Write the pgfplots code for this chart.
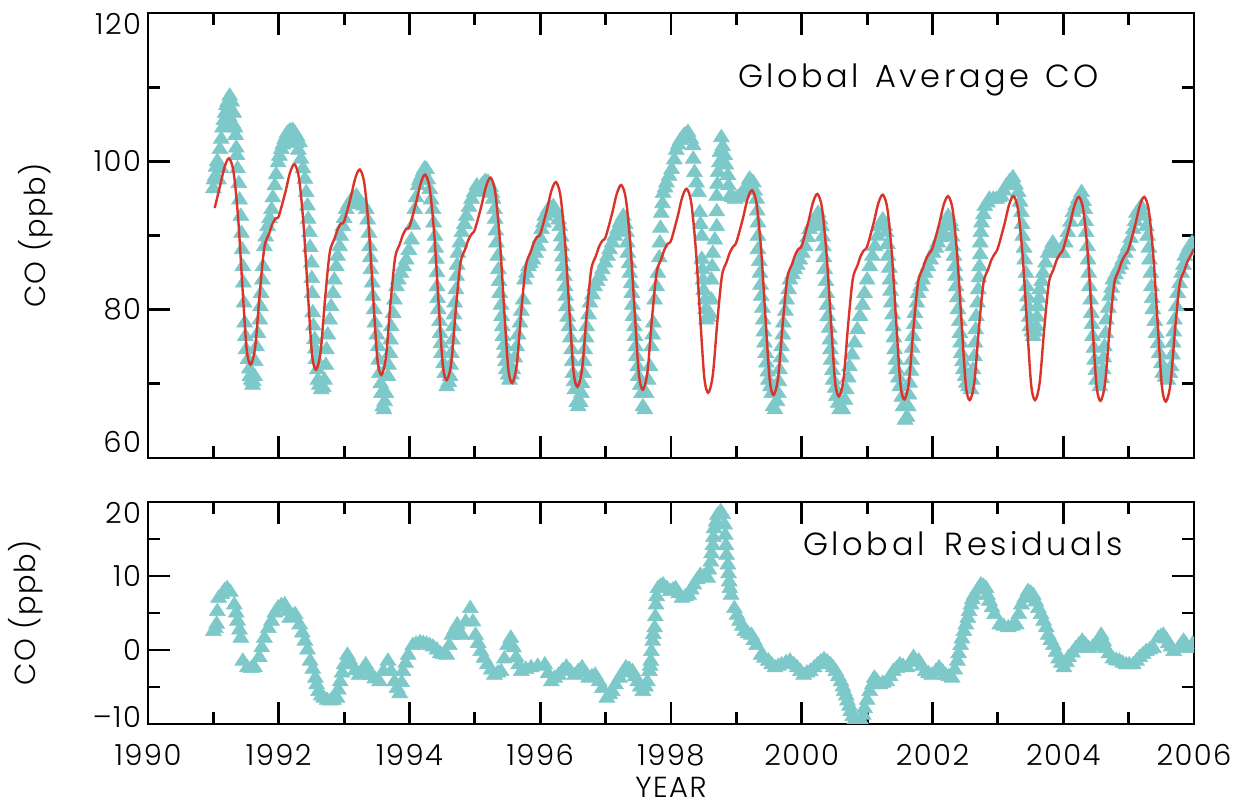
\documentclass[border=0pt]{standalone}
\usepackage{fontspec}
\setmainfont{Poppins Light}[LetterSpace=5]
\newfontfamily\widefont{Poppins Light}[LetterSpace=11]
\usepackage{pgfplots}
\pgfplotsset{compat=1.18}
\usetikzlibrary{calc}
\definecolor{cotri}{RGB}{125,200,200}
\definecolor{fitred}{RGB}{218,52,42}

\pgfplotsset{
  coaxis/.style={
    scale only axis, width=523pt,
    xmin=1990, xmax=2006,
    xtick={1990,1992,...,2006},
    minor xtick={1991,1993,...,2005},
    tick align=inside,
    major tick length=11pt, minor tick length=6pt,
    axis line style={line width=1.4pt},
    tick style={line width=1.4pt, black},
    clip marker paths=true,
    /pgf/number format/assume math mode=true,
    /pgf/number format/1000 sep={},
    tick label style={font=\fontsize{14.5}{16}\selectfont},
    label style={font=\fontsize{14.5}{16}\selectfont},
  },
  tri/.style={only marks, color=cotri, mark=triangle*, mark size=4.6pt,
    mark options={draw=cotri, fill=cotri, line width=0.3pt, yscale=0.9}},
}

\begin{document}
\begin{tikzpicture}
% ---- top panel: global average CO
\begin{axis}[coaxis, name=top, height=222.5pt,
  ymin=60, ymax=120,
  ytick={60,80,100,120}, minor ytick={70,90,110},
  yticklabels={{\raisebox{8pt}[\height][\depth]{60}},80,100,{\raisebox{-5.5pt}[\height][\depth]{120}}},
  xticklabels={},
  ylabel={CO (ppb)},
  ylabel style={at={(axis description cs:-0.107,0.5)}, anchor=center},
]
\addplot[tri] coordinates {
(1991.00,96.3)(1991.01,97.5)(1991.03,98.0)(1991.04,99.2)(1991.06,100.0)(1991.08,97.5)(1991.10,101.6)(1991.12,99.0)
(1991.12,103.0)(1991.14,104.5)(1991.16,105.5)(1991.18,106.5)(1991.20,107.5)(1991.22,108.0)(1991.24,106.0)(1991.25,108.8)
(1991.27,107.0)(1991.28,108.0)(1991.30,105.0)(1991.31,106.5)(1991.33,104.5)(1991.34,103.5)(1991.35,101.8)(1991.36,100.8)
(1991.37,99.0)(1991.39,97.0)(1991.40,94.8)(1991.42,92.6)(1991.43,90.3)(1991.44,88.1)(1991.45,85.8)(1991.46,83.6)
(1991.47,80.9)(1991.48,78.2)(1991.49,76.4)(1991.50,74.6)(1991.53,73.3)(1991.55,72.0)(1991.56,71.0)(1991.58,70.5)
(1991.60,69.8)(1991.61,70.3)(1991.63,71.0)(1991.64,73.0)(1991.66,75.0)(1991.68,76.8)(1991.71,78.6)(1991.72,80.4)
(1991.73,82.2)(1991.75,84.0)(1991.76,85.8)(1991.78,88.5)(1991.80,89.8)(1991.83,91.2)(1991.86,92.3)(1991.89,93.5)
(1991.91,95.1)(1991.94,96.7)(1991.96,98.2)(1991.99,99.8)(1992.01,100.7)(1992.04,101.6)(1992.06,102.2)(1992.09,102.9)
(1992.11,103.3)(1992.13,103.8)(1992.15,102.5)(1992.17,104.1)(1992.19,103.0)(1992.21,104.2)(1992.24,103.9)(1992.26,102.4)
(1992.28,103.3)(1992.30,101.5)(1992.32,102.5)(1992.34,100.3)(1992.37,99.0)(1992.40,97.6)(1992.42,95.8)(1992.44,94.0)
(1992.45,92.2)(1992.47,90.4)(1992.48,88.4)(1992.50,86.3)(1992.505,84.2)(1992.51,82.2)(1992.52,79.6)(1992.53,77.8)
(1992.55,76.0)(1992.56,74.7)(1992.57,73.3)(1992.59,71.9)(1992.60,70.5)(1992.62,69.8)(1992.65,69.2)(1992.68,69.5)
(1992.70,70.5)(1992.72,72.5)(1992.73,74.6)(1992.75,76.6)(1992.78,78.6)(1992.80,80.4)(1992.83,82.2)(1992.85,84.0)
(1992.88,85.8)(1992.90,87.2)(1992.93,88.5)(1992.95,89.9)(1992.98,91.2)(1993.00,92.3)(1993.03,93.5)(1993.07,94.2)
(1993.11,94.8)(1993.15,95.0)(1993.19,95.3)(1993.22,94.8)(1993.26,94.4)(1993.30,94.0)(1993.34,93.5)(1993.36,92.1)
(1993.38,90.3)(1993.39,88.5)(1993.40,87.0)(1993.41,85.4)(1993.43,83.6)(1993.44,81.8)(1993.46,80.0)(1993.47,78.2)
(1993.50,76.6)(1993.52,75.0)(1993.53,73.2)(1993.54,71.4)(1993.56,70.0)(1993.57,68.7)(1993.59,66.9)(1993.61,66.5)
(1993.62,67.6)(1993.64,68.7)(1993.67,71.0)(1993.68,72.5)(1993.70,74.1)(1993.71,75.9)(1993.72,77.7)(1993.75,79.5)
(1993.77,81.3)(1993.80,83.1)(1993.83,84.0)(1993.87,84.9)(1993.91,85.8)(1993.95,86.7)(1993.99,88.0)(1994.03,89.4)
(1994.05,91.4)(1994.08,93.5)(1994.10,95.1)(1994.13,96.7)(1994.15,97.4)(1994.18,98.0)(1994.21,98.6)(1994.23,99.0)
(1994.26,98.9)(1994.28,97.5)(1994.31,96.2)(1994.33,94.8)(1994.36,93.5)(1994.37,91.7)(1994.39,89.9)(1994.40,88.3)
(1994.41,86.8)(1994.42,85.0)(1994.42,83.1)(1994.43,81.5)(1994.44,80.0)(1994.46,78.4)(1994.47,76.8)(1994.48,75.4)
(1994.49,74.1)(1994.52,72.7)(1994.54,71.4)(1994.57,69.6)(1994.60,70.2)(1994.62,71.0)(1994.63,72.5)(1994.64,74.1)
(1994.66,75.9)(1994.67,77.7)(1994.68,79.3)(1994.69,80.9)(1994.71,82.7)(1994.72,84.5)(1994.73,86.0)(1994.74,87.6)
(1994.77,89.0)(1994.80,90.4)(1994.84,91.5)(1994.87,92.6)(1994.91,93.8)(1994.95,94.9)(1994.99,95.8)(1995.03,96.7)
(1995.07,96.0)(1995.10,96.7)(1995.13,97.0)(1995.16,97.3)(1995.18,96.0)(1995.20,97.2)(1995.24,96.5)(1995.26,95.7)
(1995.28,94.9)(1995.30,93.5)(1995.31,92.2)(1995.32,90.6)(1995.33,89.0)(1995.35,87.2)(1995.36,85.4)(1995.37,83.8)
(1995.38,82.2)(1995.40,80.6)(1995.41,79.1)(1995.42,77.7)(1995.43,76.4)(1995.45,75.2)(1995.46,74.1)(1995.47,73.0)
(1995.48,71.9)(1995.51,71.2)(1995.53,70.5)(1995.56,71.2)(1995.58,71.9)(1995.61,73.5)(1995.64,75.0)(1995.66,76.6)
(1995.69,78.2)(1995.71,79.8)(1995.74,81.3)(1995.76,84.0)(1995.79,84.9)(1995.82,85.8)(1995.85,86.2)(1995.89,86.7)
(1995.93,87.6)(1995.97,88.5)(1996.00,89.6)(1996.02,90.8)(1996.05,91.7)(1996.07,92.6)(1996.10,93.0)(1996.12,93.5)
(1996.16,93.7)(1996.20,93.9)(1996.25,93.0)(1996.28,92.1)(1996.30,91.2)(1996.32,89.8)(1996.33,88.5)(1996.34,87.1)
(1996.35,85.8)(1996.37,84.5)(1996.38,83.1)(1996.39,81.8)(1996.40,80.4)(1996.42,79.0)(1996.44,77.7)(1996.46,76.2)
(1996.48,74.6)(1996.49,73.0)(1996.50,71.4)(1996.52,70.3)(1996.53,69.2)(1996.56,67.5)(1996.58,66.9)(1996.61,67.5)
(1996.63,68.7)(1996.64,70.0)(1996.66,71.4)(1996.67,73.0)(1996.68,74.6)(1996.70,76.2)(1996.71,77.7)(1996.74,79.3)
(1996.76,80.9)(1996.80,82.0)(1996.83,83.1)(1996.87,83.8)(1996.91,84.5)(1996.95,85.4)(1996.99,86.3)(1997.03,87.2)
(1997.06,88.1)(1997.10,89.0)(1997.14,89.9)(1997.18,90.8)(1997.22,91.7)(1997.25,92.2)(1997.27,92.6)(1997.30,91.5)
(1997.32,90.4)(1997.33,89.0)(1997.34,87.6)(1997.36,86.2)(1997.37,84.9)(1997.39,83.5)(1997.40,82.2)(1997.41,80.6)
(1997.42,79.1)(1997.44,77.7)(1997.45,76.4)(1997.46,75.0)(1997.47,73.7)(1997.49,72.3)(1997.50,71.0)(1997.53,69.8)
(1997.55,68.7)(1997.57,66.9)(1997.60,66.5)(1997.62,68.7)(1997.65,70.5)(1997.68,72.3)(1997.70,75.0)(1997.72,76.6)
(1997.73,78.2)(1997.75,81.3)(1997.78,83.1)(1997.80,84.9)(1997.82,87.0)(1997.83,89.0)(1997.84,91.0)(1997.85,93.0)
(1997.87,94.3)(1997.88,95.7)(1997.91,96.4)(1997.93,97.1)(1997.97,98.0)(1998.01,98.9)(1998.05,100.2)(1998.08,101.5)
(1998.11,102.2)(1998.14,102.8)(1998.17,103.1)(1998.19,103.4)(1998.22,103.6)(1998.26,103.9)(1998.30,103.0)(1998.34,102.1)
(1998.34,100.3)(1998.36,98.5)(1998.39,97.1)(1998.42,95.8)(1998.44,93.1)(1998.45,91.5)(1998.47,89.9)(1998.47,86.8)
(1998.48,85.4)(1998.49,84.0)(1998.50,82.6)(1998.52,81.3)(1998.53,80.0)(1998.54,78.6)(1998.57,79.0)(1998.59,79.5)
(1998.62,81.3)(1998.62,84.0)(1998.63,85.8)(1998.64,87.6)(1998.67,89.4)(1998.70,91.2)(1998.70,93.2)(1998.70,95.3)
(1998.71,96.9)(1998.72,98.5)(1998.74,99.8)(1998.75,101.2)(1998.77,103.2)(1998.79,102.0)(1998.82,100.8)(1998.84,99.5)
(1998.87,98.1)(1998.88,96.7)(1998.90,95.3)(1998.94,95.1)(1998.98,94.9)(1999.02,95.1)(1999.05,95.3)(1999.09,95.7)
(1999.13,96.2)(1999.17,96.9)(1999.20,97.6)(1999.23,97.3)(1999.26,97.1)(1999.28,96.0)(1999.31,94.9)(1999.32,93.3)
(1999.33,91.7)(1999.33,89.9)(1999.33,88.1)(1999.35,86.5)(1999.36,84.9)(1999.37,83.3)(1999.38,81.8)(1999.40,80.2)
(1999.41,78.6)(1999.42,77.0)(1999.43,75.5)(1999.45,74.1)(1999.46,72.8)(1999.48,71.6)(1999.49,70.5)(1999.52,69.6)
(1999.54,68.7)(1999.56,66.9)(1999.59,66.5)(1999.62,67.6)(1999.64,68.7)(1999.65,70.3)(1999.66,71.9)(1999.68,73.5)
(1999.69,75.0)(1999.71,76.6)(1999.72,78.2)(1999.75,79.8)(1999.77,81.3)(1999.80,82.7)(1999.82,84.0)(1999.86,84.7)
(1999.89,85.4)(1999.93,86.0)(1999.97,86.7)(2000.01,87.6)(2000.05,88.5)(2000.09,89.7)(2000.12,90.8)(2000.16,91.5)
(2000.20,92.1)(2000.25,93.0)(2000.28,92.1)(2000.30,91.2)(2000.32,89.8)(2000.33,88.5)(2000.34,87.0)(2000.35,85.4)
(2000.37,83.8)(2000.38,82.2)(2000.39,80.6)(2000.40,79.1)(2000.42,77.5)(2000.43,75.9)(2000.44,74.6)(2000.45,73.2)
(2000.47,71.8)(2000.48,70.5)(2000.51,69.4)(2000.53,68.3)(2000.56,67.4)(2000.58,66.5)(2000.63,66.5)(2000.66,67.8)
(2000.68,69.2)(2000.71,70.8)(2000.73,72.3)(2000.77,73.9)(2000.81,75.5)(2000.85,77.3)(2000.89,79.1)(2000.93,80.6)
(2000.96,82.2)(2001.00,84.0)(2001.04,85.8)(2001.08,87.2)(2001.12,88.5)(2001.16,89.9)(2001.19,91.2)(2001.24,92.1)
(2001.27,91.2)(2001.29,90.4)(2001.31,88.8)(2001.32,87.2)(2001.34,85.6)(2001.35,84.0)(2001.36,82.5)(2001.37,80.9)
(2001.39,79.3)(2001.40,77.7)(2001.41,76.2)(2001.42,74.6)(2001.44,73.2)(2001.45,71.9)(2001.48,70.8)(2001.50,69.6)
(2001.53,68.2)(2001.55,66.9)(2001.58,65.1)(2001.61,65.5)(2001.63,66.9)(2001.64,68.5)(2001.65,70.1)(2001.67,71.7)
(2001.68,73.2)(2001.69,74.8)(2001.70,76.4)(2001.72,78.0)(2001.73,79.5)(2001.76,80.9)(2001.78,82.2)(2001.82,83.1)
(2001.85,84.0)(2001.89,84.9)(2001.93,85.8)(2001.97,86.7)(2002.01,87.6)(2002.05,88.3)(2002.08,89.0)(2002.12,89.7)
(2002.16,90.4)(2002.20,91.5)(2002.24,92.6)(2002.27,91.9)(2002.29,91.2)(2002.30,89.8)(2002.31,88.5)(2002.33,87.2)
(2002.34,85.8)(2002.35,84.5)(2002.36,83.1)(2002.38,81.6)(2002.39,80.0)(2002.41,78.4)(2002.42,76.8)(2002.43,75.5)
(2002.44,74.1)(2002.46,73.0)(2002.47,71.9)(2002.50,71.0)(2002.52,70.1)(2002.55,69.6)(2002.59,69.2)(2002.61,70.5)
(2002.62,71.9)(2002.64,73.7)(2002.65,75.5)(2002.66,77.3)(2002.67,79.1)(2002.69,80.9)(2002.70,82.7)(2002.71,84.3)
(2002.72,85.8)(2002.73,87.4)(2002.73,89.0)(2002.74,90.4)(2002.75,91.7)(2002.78,92.8)(2002.80,93.9)(2002.84,94.4)
(2002.87,94.9)(2002.93,94.9)(2002.98,94.9)(2003.02,95.1)(2003.05,95.3)(2003.09,96.0)(2003.13,96.7)(2003.18,97.3)
(2003.23,97.8)(2003.27,96.8)(2003.31,95.8)(2003.34,94.5)(2003.36,93.1)(2003.37,91.5)(2003.38,89.9)(2003.40,88.3)
(2003.41,86.7)(2003.43,84.9)(2003.44,83.1)(2003.45,81.7)(2003.46,80.4)(2003.48,79.0)(2003.49,77.7)(2003.52,77.0)
(2003.54,76.4)(2003.57,77.0)(2003.59,77.7)(2003.60,79.0)(2003.61,80.4)(2003.63,81.5)(2003.64,82.7)(2003.67,83.8)
(2003.69,84.9)(2003.73,86.3)(2003.77,87.6)(2003.81,88.3)(2003.84,89.0)(2003.88,88.3)(2003.92,87.6)(2003.96,87.6)
(2003.99,87.6)(2004.03,89.0)(2004.07,90.4)(2004.11,91.8)(2004.15,93.1)(2004.19,94.0)(2004.23,94.9)(2004.28,95.8)
(2004.31,94.6)(2004.33,93.5)(2004.34,91.9)(2004.35,90.4)(2004.37,88.5)(2004.38,86.7)(2004.39,84.9)(2004.40,83.1)
(2004.42,81.3)(2004.43,79.5)(2004.44,78.0)(2004.45,76.4)(2004.47,74.8)(2004.48,73.2)(2004.50,71.8)(2004.51,70.5)
(2004.56,69.6)(2004.59,70.7)(2004.61,71.9)(2004.62,73.5)(2004.63,75.0)(2004.65,76.8)(2004.66,78.6)(2004.69,80.2)
(2004.71,81.8)(2004.74,82.9)(2004.76,84.0)(2004.80,84.7)(2004.84,85.4)(2004.88,86.0)(2004.91,86.7)(2004.95,87.6)
(2004.99,88.5)(2005.03,89.6)(2005.07,90.8)(2005.10,91.9)(2005.12,93.0)(2005.16,93.5)(2005.19,93.9)(2005.24,92.6)
(2005.27,91.2)(2005.29,89.9)(2005.31,88.3)(2005.32,86.7)(2005.34,84.9)(2005.35,83.1)(2005.36,81.5)(2005.37,80.0)
(2005.40,78.4)(2005.42,76.8)(2005.45,75.4)(2005.47,74.1)(2005.50,72.7)(2005.52,71.4)(2005.56,70.9)(2005.60,70.5)
(2005.63,71.4)(2005.65,72.3)(2005.67,73.9)(2005.68,75.5)(2005.69,77.0)(2005.70,78.6)(2005.73,80.4)(2005.75,82.2)
(2005.78,83.5)(2005.81,84.9)(2005.84,86.0)(2005.86,87.2)(2005.90,87.9)(2005.93,88.5)(2005.97,89.0)(2006.01,89.4)
};
\addplot[fitred, line width=1.2pt, smooth, no marks] coordinates {
(1991.02,93.7)(1991.10,96.6)(1991.17,99.2)(1991.24,100.4)(1991.31,98.5)(1991.38,92.2)(1991.45,82.3)(1991.51,74.6)
(1991.57,72.6)(1991.64,75.0)(1991.71,82.3)(1991.78,88.4)(1991.85,90.2)(1991.90,91.5)(1991.95,92.3)
(1992.00,92.6)(1992.10,95.8)(1992.17,98.4)(1992.24,99.6)(1992.31,97.7)(1992.38,91.4)(1992.45,81.6)(1992.51,73.9)
(1992.57,71.9)(1992.64,74.3)(1992.71,81.6)(1992.78,87.7)(1992.85,89.5)(1992.90,90.8)(1992.95,91.6)
(1993.00,91.9)(1993.10,95.1)(1993.17,97.7)(1993.24,98.9)(1993.31,97.0)(1993.38,90.7)(1993.45,80.9)(1993.51,73.2)
(1993.57,71.2)(1993.64,73.6)(1993.71,80.9)(1993.78,87.0)(1993.85,88.8)(1993.90,90.1)(1993.95,90.9)
(1994.00,91.2)(1994.10,94.4)(1994.17,97.0)(1994.24,98.2)(1994.31,96.3)(1994.38,90.0)(1994.45,80.2)(1994.51,72.5)
(1994.57,70.5)(1994.64,72.9)(1994.71,80.2)(1994.78,86.3)(1994.85,88.1)(1994.90,89.4)(1994.95,90.2)
(1995.00,90.8)(1995.10,94.0)(1995.17,96.6)(1995.24,97.8)(1995.31,95.9)(1995.38,89.6)(1995.45,79.8)(1995.51,72.1)
(1995.57,70.1)(1995.64,72.5)(1995.71,79.8)(1995.78,85.9)(1995.85,87.7)(1995.90,89.0)(1995.95,89.8)
(1996.00,90.2)(1996.10,93.4)(1996.17,96.0)(1996.24,97.2)(1996.31,95.3)(1996.38,89.0)(1996.45,79.3)(1996.51,71.6)
(1996.57,69.6)(1996.64,72.0)(1996.71,79.3)(1996.78,85.4)(1996.85,87.2)(1996.90,88.5)(1996.95,89.3)
(1997.00,89.8)(1997.10,93.0)(1997.17,95.6)(1997.24,96.8)(1997.31,94.9)(1997.38,88.6)(1997.45,78.9)(1997.51,71.2)
(1997.57,69.2)(1997.64,71.6)(1997.71,78.9)(1997.78,85.0)(1997.85,86.8)(1997.90,88.1)(1997.95,88.9)
(1998.00,89.3)(1998.10,92.5)(1998.17,95.1)(1998.24,96.3)(1998.31,94.4)(1998.38,88.1)(1998.45,78.5)(1998.51,70.8)
(1998.57,68.8)(1998.64,71.2)(1998.71,78.5)(1998.78,84.6)(1998.85,86.4)(1998.90,87.7)(1998.95,88.5)
(1999.00,89.1)(1999.10,92.3)(1999.17,94.9)(1999.24,96.1)(1999.31,94.2)(1999.38,87.9)(1999.45,78.2)(1999.51,70.5)
(1999.57,68.5)(1999.64,70.9)(1999.71,78.2)(1999.78,84.3)(1999.85,86.1)(1999.90,87.4)(1999.95,88.2)
(2000.00,88.6)(2000.10,91.8)(2000.17,94.4)(2000.24,95.6)(2000.31,93.7)(2000.38,87.4)(2000.45,78.0)(2000.51,70.3)
(2000.57,68.3)(2000.64,70.7)(2000.71,78.0)(2000.78,84.1)(2000.85,85.9)(2000.90,87.2)(2000.95,88.0)
(2001.00,88.5)(2001.10,91.7)(2001.17,94.3)(2001.24,95.5)(2001.31,93.6)(2001.38,87.3)(2001.45,77.6)(2001.51,69.9)
(2001.57,67.9)(2001.64,70.3)(2001.71,77.6)(2001.78,83.7)(2001.85,85.5)(2001.90,86.8)(2001.95,87.6)
(2002.00,88.3)(2002.10,91.5)(2002.17,94.1)(2002.24,95.3)(2002.31,93.4)(2002.38,87.1)(2002.45,77.5)(2002.51,69.8)
(2002.57,67.8)(2002.64,70.2)(2002.71,77.5)(2002.78,83.6)(2002.85,85.4)(2002.90,86.7)(2002.95,87.5)
(2003.00,88.3)(2003.10,91.5)(2003.17,94.1)(2003.24,95.3)(2003.31,93.4)(2003.38,87.1)(2003.45,77.5)(2003.51,69.8)
(2003.57,67.8)(2003.64,70.2)(2003.71,77.5)(2003.78,83.6)(2003.85,85.4)(2003.90,86.7)(2003.95,87.5)
(2004.00,88.2)(2004.10,91.4)(2004.17,94.0)(2004.24,95.2)(2004.31,93.3)(2004.38,87.0)(2004.45,77.4)(2004.51,69.7)
(2004.57,67.7)(2004.64,70.1)(2004.71,77.4)(2004.78,83.5)(2004.85,85.3)(2004.90,86.6)(2004.95,87.4)
(2005.00,88.2)(2005.10,91.4)(2005.17,94.0)(2005.24,95.2)(2005.31,93.3)(2005.38,87.0)(2005.45,77.3)(2005.51,69.6)
(2005.57,67.6)(2005.64,70.0)(2005.71,77.3)(2005.78,83.4)(2005.85,85.2)(2005.90,86.5)(2005.95,87.3)(2006.00,88.2)
};
\node[anchor=base west, inner sep=0pt, font=\widefont\fontsize{16}{18}\selectfont]
  at (axis cs:1999.02,109.9) {Global\hspace{2pt} Average\hspace{2pt} CO};
\end{axis}

% ---- bottom panel: residuals
\begin{axis}[coaxis, at={($(top.south west)+(0,-22pt)$)}, anchor=north west, height=111pt,
  ymin=-10, ymax=20,
  ytick={-10,0,10,20}, minor ytick={-5,5,15},
  yticklabels={{\raisebox{3.5pt}[\height][\depth]{\textendash10}},0,10,{\raisebox{-5.5pt}[\height][\depth]{20}}},
  xticklabel style={yshift=-6.5pt},
  xlabel={YEAR},
  xlabel style={at={(axis description cs:0.5,-0.285)}, anchor=center},
  ylabel={CO (ppb)},
  ylabel style={at={(axis description cs:-0.1166,0.5)}, anchor=center},
]
\addplot[tri] coordinates {
(1991.00,2.5)(1991.03,2.9)(1991.05,3.5)(1991.06,5.2)(1991.08,7.0)(1991.13,7.5)(1991.17,8.0)(1991.21,8.3)(1991.26,7.8)
(1991.32,6.1)(1991.35,5.0)(1991.37,3.9)(1991.40,2.7)(1991.42,1.6)(1991.45,-1.5)(1991.52,-2.4)(1991.58,-2.5)(1991.63,-2.4)(1991.70,-1.0)
(1991.74,0.3)(1991.78,1.6)(1991.84,2.9)(1991.89,3.9)(1991.94,5.0)(1991.99,5.7)(1992.04,6.0)(1992.09,6.1)(1992.13,5.2)
(1992.17,4.3)(1992.21,4.6)(1992.25,4.8)(1992.32,3.4)(1992.36,2.3)(1992.40,1.2)(1992.44,0.0)(1992.48,-1.5)
(1992.52,-2.6)(1992.56,-3.8)(1992.58,-4.7)(1992.61,-5.6)(1992.65,-6.2)(1992.69,-6.5)(1992.74,-6.8)(1992.79,-6.9)(1992.84,-6.8)
(1992.89,-6.5)(1992.91,-5.4)(1992.94,-4.3)(1992.97,-3.1)(1993.00,-2.0)(1993.05,-0.7)(1993.08,-1.3)(1993.12,-2.0)(1993.17,-2.8)(1993.23,-3.4)
(1993.28,-2.7)(1993.33,-2.0)(1993.37,-2.7)(1993.41,-3.4)(1993.47,-3.9)(1993.54,-4.3)(1993.60,-2.9)(1993.67,-1.5)
(1993.72,-2.9)(1993.77,-4.3)(1993.81,-5.2)(1993.85,-5.9)(1993.88,-4.4)(1993.90,-2.9)(1993.94,-1.8)(1993.98,-0.7)(1994.05,0.6)
(1994.10,0.8)(1994.16,1.0)(1994.21,0.9)(1994.26,0.8)(1994.31,0.6)(1994.36,0.4)(1994.42,0.0)(1994.47,-0.5)
(1994.52,-0.6)(1994.57,-0.7)(1994.61,0.6)(1994.65,2.0)(1994.69,2.7)(1994.73,3.4)(1994.80,2.0)(1994.86,3.8)
(1994.93,5.6)(1994.97,3.8)(1995.01,2.0)(1995.05,0.9)(1995.09,-0.2)(1995.14,-1.1)(1995.19,-2.0)(1995.25,-2.7)
(1995.30,-3.4)(1995.35,-3.1)(1995.40,-2.9)(1995.45,-1.2)(1995.50,0.6)(1995.55,1.6)(1995.59,0.3)(1995.63,-1.0)
(1995.67,-2.0)(1995.71,-2.9)(1995.78,-2.6)(1995.86,-2.4)(1995.96,-2.2)(1996.07,-2.0)(1996.12,-3.2)(1996.17,-4.3)
(1996.22,-3.8)(1996.28,-3.4)(1996.34,-2.8)(1996.40,-2.3)(1996.46,-2.9)(1996.53,-3.4)(1996.58,-2.9)(1996.64,-2.4)
(1996.69,-3.1)(1996.74,-3.8)(1996.79,-3.6)(1996.84,-3.4)(1996.90,-4.3)(1996.95,-5.2)(1997.02,-6.5)(1997.06,-6.0)
(1997.10,-5.6)(1997.15,-4.7)(1997.21,-3.8)(1997.26,-3.1)(1997.31,-2.4)(1997.36,-2.6)(1997.41,-2.9)(1997.45,-3.6)
(1997.49,-4.3)(1997.53,-5.0)(1997.57,-5.6)(1997.61,-5.0)(1997.64,-4.3)(1997.67,-2.9)(1997.68,-2.2)(1997.69,-1.5)
(1997.70,-0.2)(1997.72,1.2)(1997.73,2.1)(1997.75,3.0)(1997.76,4.5)(1997.77,6.1)(1997.78,7.2)(1997.80,8.3)
(1997.84,8.6)(1997.88,8.8)(1997.94,8.3)(1997.99,7.9)(1998.03,8.1)
(1998.07,8.3)(1998.12,7.6)(1998.17,7.0)(1998.22,7.2)(1998.27,7.4)(1998.31,8.1)(1998.35,8.8)(1998.40,9.5)
(1998.45,10.1)(1998.50,9.9)(1998.56,9.7)(1998.58,10.8)(1998.61,11.9)(1998.62,13.0)(1998.64,14.1)(1998.65,15.2)
(1998.66,16.4)(1998.69,17.3)(1998.71,18.2)(1998.76,18.7)(1998.79,18.3)(1998.82,16.9)(1998.83,15.5)(1998.84,14.1)
(1998.85,12.8)(1998.87,11.5)(1998.88,10.3)(1998.89,9.2)(1998.90,8.3)(1998.92,7.4)(1998.97,5.6)(1999.01,4.7)
(1999.05,3.9)(1999.09,3.2)(1999.13,2.5)(1999.18,2.2)(1999.23,2.0)(1999.27,1.3)(1999.31,0.6)(1999.38,-0.7)
(1999.43,-1.1)(1999.49,-1.5)(1999.54,-2.0)(1999.59,-2.4)(1999.64,-2.2)(1999.69,-2.0)(1999.76,-1.7)(1999.82,-1.5)
(1999.88,-2.0)(1999.93,-2.4)(1999.98,-2.9)(2000.03,-3.4)(2000.08,-3.1)(2000.13,-2.9)(2000.19,-2.4)(2000.24,-2.0)
(2000.29,-1.6)(2000.34,-1.3)(2000.39,-1.6)(2000.44,-2.0)(2000.48,-2.4)(2000.52,-2.9)(2000.56,-3.6)(2000.60,-4.3)
(2000.63,-5.0)(2000.65,-5.6)(2000.68,-6.2)(2000.70,-6.9)(2000.73,-7.6)(2000.75,-8.3)(2000.78,-9.0)(2000.80,-9.6)
(2000.85,-10.5)(2000.91,-9.6)(2000.94,-8.8)(2000.96,-7.9)(2001.00,-6.8)
(2001.04,-5.6)(2001.08,-4.7)(2001.11,-3.8)(2001.15,-4.2)(2001.19,-4.7)(2001.24,-4.5)(2001.30,-4.3)(2001.35,-3.6)
(2001.40,-2.9)(2001.45,-2.5)(2001.50,-2.0)(2001.55,-2.2)(2001.61,-2.4)(2001.66,-1.7)(2001.71,-1.0)(2001.79,-1.5)
(2001.84,-2.2)(2001.89,-2.9)(2001.94,-3.2)(2001.99,-3.4)(2002.05,-2.9)(2002.10,-2.4)(2002.15,-2.9)(2002.20,-3.4)
(2002.25,-3.6)(2002.30,-3.8)(2002.34,-2.7)(2002.38,-1.5)(2002.40,-0.5)(2002.43,0.6)(2002.45,1.5)(2002.48,2.5)
(2002.51,3.4)(2002.54,4.3)(2002.56,5.2)(2002.59,6.1)(2002.61,6.8)(2002.64,7.4)(2002.69,8.1)(2002.74,8.8)(2002.78,8.6)
(2002.82,8.3)(2002.84,7.4)(2002.87,6.6)(2002.91,5.7)(2002.95,4.8)
(2003.03,3.4)(2003.09,3.2)(2003.16,3.0)(2003.22,3.2)(2003.28,3.4)(2003.32,4.8)(2003.36,6.1)(2003.41,7.0)
(2003.46,7.9)(2003.50,7.7)(2003.54,7.4)(2003.58,6.5)(2003.62,5.6)(2003.66,4.8)(2003.70,3.9)(2003.74,3.0)
(2003.77,2.0)(2003.81,1.3)(2003.85,0.6)(2003.89,-0.3)(2003.93,-1.2)(2003.97,-1.8)(2004.01,-2.4)(2004.05,-1.7)
(2004.08,-1.0)(2004.14,-0.4)(2004.19,0.2)(2004.24,0.7)(2004.29,1.2)(2004.34,0.7)(2004.39,0.2)(2004.45,0.4)
(2004.50,0.6)(2004.54,1.3)(2004.58,2.0)(2004.62,1.1)(2004.65,0.2)(2004.70,-0.5)(2004.76,-1.2)(2004.81,-1.4)
(2004.86,-1.5)(2004.91,-1.8)(2004.96,-2.0)(2005.01,-2.0)(2005.07,-2.0)(2005.12,-1.5)(2005.17,-1.0)(2005.22,-0.6)
(2005.27,-0.2)(2005.32,0.0)(2005.38,0.2)(2005.45,1.6)(2005.49,1.8)(2005.53,2.0)(2005.57,1.5)(2005.61,0.9)
(2005.65,0.4)(2005.69,-0.2)(2005.76,0.2)(2005.80,0.7)(2005.84,1.2)(2005.88,0.7)(2005.92,0.2)(2005.98,0.8)
};
\node[anchor=base west, inner sep=0pt, font=\widefont\fontsize{16}{18}\selectfont]
  at (axis cs:2000.02,12.8) {Global\hspace{4pt} Residuals};
\end{axis}

\pgfresetboundingbox
\path[use as bounding box] ($(top.north west)+(-74pt,6.5pt)$) rectangle ++(622pt,-403.5pt);
\end{tikzpicture}
\end{document}
